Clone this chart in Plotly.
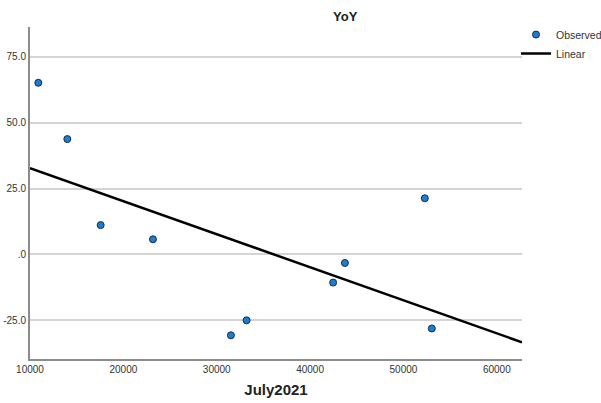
import numpy as np
import plotly.graph_objects as go

# Data
x_obs = [10890, 14000, 17570, 23170, 31520, 33200, 42470, 43730, 52290, 53040]
y_obs = [65.2, 43.8, 11.1, 5.7, -30.8, -25.1, -10.75, -3.3, 21.3, -28.2]
x_ticks = [10000, 20000, 30000, 40000, 50000, 60000]
y_ticks = [-25, 0, 25, 50, 75]
y_tick_labels = ["-25.0", ".0", "25.0", "50.0", "75.0"]
x_range = [10000, 62700]
y_range = [-39.8, 86.4]

slope, intercept = np.polyfit(x_obs, y_obs, 1)
x_fit = np.array(x_range)
y_fit = slope * x_fit + intercept

fig = go.Figure()
fig.add_trace(go.Scatter(
    x=x_obs, y=y_obs, mode="markers", name="Observed",
    marker=dict(color="#1a7fd4", size=7, line=dict(color="#1b2a3a", width=1)),
))
fig.add_trace(go.Scatter(
    x=x_fit, y=y_fit, mode="lines", name="Linear",
    line=dict(color="black", width=2.5),
))

fig.update_layout(
    width=601, height=403,
    margin=dict(l=30, r=79, t=27, b=44, autoexpand=False),
    paper_bgcolor="white", plot_bgcolor="white",
    font=dict(family="Liberation Sans, Arial, sans-serif", size=10, color="#333333"),
    showlegend=True,
    legend=dict(xref="container", yref="container", x=516 / 601, y=1 - 20 / 403,
                xanchor="left", yanchor="top",
                font=dict(size=10.5, color="#333333"), tracegroupgap=0,
                itemwidth=30, bgcolor="rgba(0,0,0,0)"),
    annotations=[
        dict(text="<b>YoY</b>", xref="paper", yref="paper",
             x=(345 - 30) / 492, y=(403 - 44 - 16) / 332, yanchor="middle",
             xanchor="center", showarrow=False,
             font=dict(size=13, color="#222222")),
    ],
)
fig.update_xaxes(
    range=x_range, tickvals=x_ticks, ticktext=[str(v) for v in x_ticks],
    showgrid=False, zeroline=False, showline=True, linecolor="#8c8c8c", linewidth=2,
    ticks="", automargin=False,
    title=dict(text="<b>July2021</b>", font=dict(size=15, color="#222222"), standoff=10),
)
fig.update_yaxes(
    range=y_range, tickvals=y_ticks, ticktext=y_tick_labels,
    showgrid=True, gridcolor="#d4d4d4", gridwidth=1.5, zeroline=False,
    showline=True, linecolor="#8c8c8c", linewidth=2, ticks="", automargin=False,
)

fig.write_html("out.html", config={"displayModeBar": False},
               post_script="document.body.style.margin='0';")
